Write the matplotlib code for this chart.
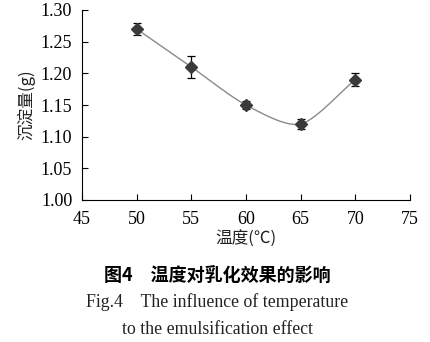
import numpy as np
import matplotlib
matplotlib.use("Agg")
import matplotlib.pyplot as plt

# temperature (°C) vs sediment amount (g)
temperature = [50, 55, 60, 65, 70]
sediment = [1.27, 1.21, 1.15, 1.12, 1.19]
sediment_err = [0.010, 0.017, 0.007, 0.008, 0.010]

x_ticks = [45, 50, 55, 60, 65, 70, 75]
y_ticks = [1.00, 1.05, 1.10, 1.15, 1.20, 1.25, 1.30]

CJK = ['Noto Sans CJK SC', 'DejaVu Sans']
SERIF = 'Liberation Serif'


def smooth_line(xs, ys, n=30, t=0.4):
    # Catmull-Rom style smoothing, like a spreadsheet "smoothed line"
    xs = np.asarray(xs, float)
    ys = np.asarray(ys, float)
    px = np.concatenate([[2 * xs[0] - xs[1]], xs, [2 * xs[-1] - xs[-2]]])
    py = np.concatenate([[2 * ys[0] - ys[1]], ys, [2 * ys[-1] - ys[-2]]])
    out_x, out_y = [], []
    s = np.linspace(0, 1, n)
    h00 = 2 * s**3 - 3 * s**2 + 1
    h10 = s**3 - 2 * s**2 + s
    h01 = -2 * s**3 + 3 * s**2
    h11 = s**3 - s**2
    for i in range(1, len(px) - 2):
        for p, out in ((px, out_x), (py, out_y)):
            m1 = t * (p[i + 1] - p[i - 1])
            m2 = t * (p[i + 2] - p[i])
            out.extend(h00 * p[i] + h10 * m1 + h01 * p[i + 1] + h11 * m2)
    return np.array(out_x), np.array(out_y)


fig = plt.figure(figsize=(4.3, 3.42), dpi=100)
ax = fig.add_axes([82 / 430, 1 - 200 / 342, 328 / 430, 190 / 342])

sx, sy = smooth_line(temperature, sediment)
ax.plot(sx, sy, color='#8a8a8a', lw=1.0, zorder=2)
ax.errorbar(temperature, sediment, yerr=sediment_err, fmt='D', color='#3a3a3a',
            ms=6.5, ecolor='black', elinewidth=0.9, capsize=3, capthick=0.9, zorder=3)

ax.set_xlim(45, 75)
ax.set_ylim(1.00, 1.30)
ax.set_xticks(x_ticks)
ax.set_yticks(y_ticks)
ax.set_xticklabels([str(v) for v in x_ticks], fontfamily=SERIF, fontsize=13)
ax.set_yticklabels([f'{v:.2f}' for v in y_ticks], fontfamily=SERIF, fontsize=13)
ax.tick_params(direction='in', length=4, width=0.8)
ax.tick_params(axis='x', pad=8)
ax.tick_params(axis='y', pad=7)

for side in ('top', 'right'):
    ax.spines[side].set_visible(False)
for side in ('left', 'bottom'):
    ax.spines[side].set_linewidth(0.8)

ax.set_xlabel('温度(℃)', family=CJK, fontsize=12, labelpad=2, color='#222222')
ax.set_ylabel('沉淀量(g)', family=CJK, fontsize=12, labelpad=4, color='#222222')

fig.text(0.505, 1 - 275 / 342, '图4　温度对乳化效果的影响', family=CJK,
         fontweight='bold', fontsize=13, ha='center', va='center')
fig.text(0.505, 1 - 302 / 342, 'Fig.4    The influence of temperature',
         family=SERIF, fontsize=12.8, ha='center', va='center', color='#222222')
fig.text(0.505, 1 - 330 / 342, 'to the emulsification effect',
         family=SERIF, fontsize=12.8, ha='center', va='center', color='#222222')

fig.savefig('out.png', dpi=100)
